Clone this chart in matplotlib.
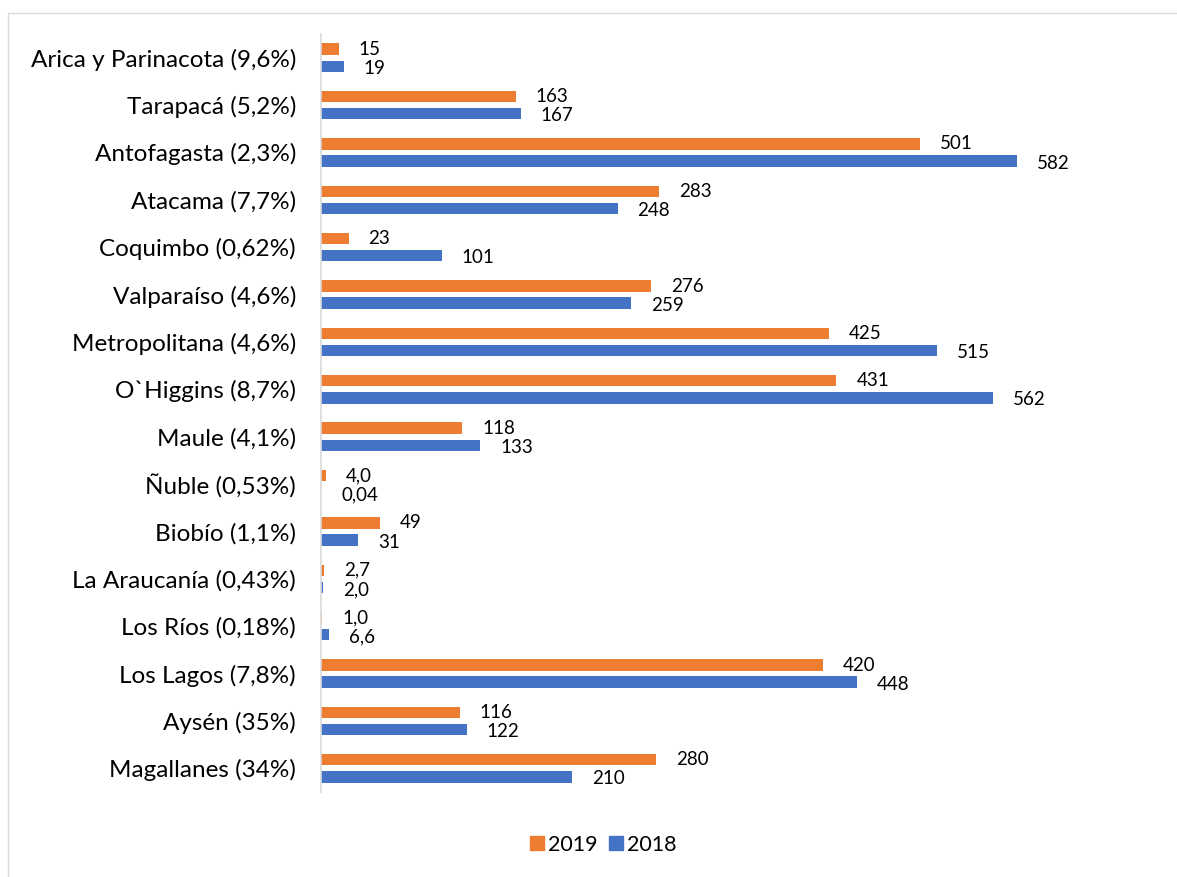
import matplotlib
matplotlib.use("Agg")
import matplotlib.pyplot as plt
from matplotlib.patches import Rectangle
from matplotlib.lines import Line2D
import numpy as np

plt.rcParams['font.family'] = ['Lato', 'DejaVu Sans']

categories = ["Arica y Parinacota (9,6%)", "Tarapacá (5,2%)", "Antofagasta (2,3%)",
              "Atacama (7,7%)", "Coquimbo (0,62%)", "Valparaíso (4,6%)",
              "Metropolitana (4,6%)", "O`Higgins (8,7%)", "Maule (4,1%)",
              "Ñuble (0,53%)", "Biobío (1,1%)", "La Araucanía (0,43%)",
              "Los Ríos (0,18%)", "Los Lagos (7,8%)", "Aysén (35%)", "Magallanes (34%)"]
v2019 = [15, 163, 501, 283, 23, 276, 425, 431, 118, 4.0, 49, 2.7, 1.0, 420, 116, 280]
v2018 = [19, 167, 582, 248, 101, 259, 515, 562, 133, 0.04, 31, 2.0, 6.6, 448, 122, 210]
series_names = ["2019", "2018"]

C19 = "#ED7D31"
C18 = "#4472C4"
GRID = "#D9D9D9"

W, H = 1177, 877
fig = plt.figure(figsize=(W / 100, H / 100), dpi=100)

# outer chart frame
fig.patches.append(Rectangle((8 / W, -0.05), 1.1, 1 - 13 / H + 0.05, transform=fig.transFigure,
                             fill=False, edgecolor=GRID, linewidth=1.0))

ax = fig.add_axes([321 / W, 1 - 792 / H, 837 / W, 758 / H])

def fmt(v):
    if v >= 10:
        s = f"{v:.0f}"
    elif v >= 1:
        s = f"{v:.1f}"
    else:
        s = f"{v:.2f}"
    return s.replace(".", ",")

y = np.arange(len(categories))
off = 0.18
h = 0.24
ax.barh(y - off, v2019, height=h, color=C19, label=series_names[0])
ax.barh(y + off, v2018, height=h, color=C18, label=series_names[1])

for yi, v in zip(y, v2019):
    ax.annotate(fmt(v), (v, yi - off), xytext=(14.4, 0), textcoords="offset points",
                ha="left", va="center", fontsize=13.5, color="#000000")
for yi, v in zip(y, v2018):
    ax.annotate(fmt(v), (v, yi + off), xytext=(14.4, -1.5), textcoords="offset points",
                ha="left", va="center", fontsize=13.5, color="#000000")

ax.set_xlim(0, 700)
ax.set_ylim(len(categories) - 0.5, -0.5)
ax.set_yticks(y)
ax.set_yticklabels(categories, fontsize=17.5)
ax.tick_params(axis="y", length=0, pad=18)
ax.set_xticks([])
for s in ["top", "right", "bottom"]:
    ax.spines[s].set_visible(False)
ax.spines["left"].set_color(GRID)
ax.spines["left"].set_linewidth(1.2)

handles = [Line2D([], [], marker="s", linestyle="none", markersize=10.5, color=C19),
           Line2D([], [], marker="s", linestyle="none", markersize=10.5, color=C18)]
fig.legend(handles, series_names, loc="center", bbox_to_anchor=(603 / W, 1 - 845 / H),
           ncol=2, frameon=False, fontsize=15.5, handletextpad=0.15, columnspacing=0.5,
           handlelength=0.7)

fig.savefig("out.png", dpi=100)
